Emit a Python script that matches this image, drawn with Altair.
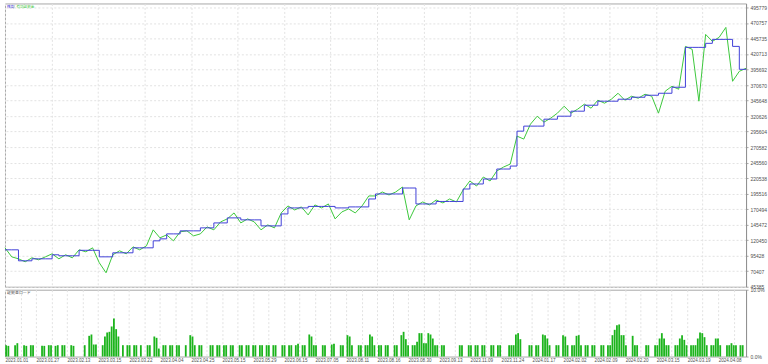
import json
import altair as alt
import pandas as pd

# ---------------- data ----------------
x_labels = ["2023.01.01", "2023.01.27", "2023.02.13", "2023.03.15", "2023.03.22", "2023.04.04",
            "2023.04.25", "2023.05.15", "2023.05.29", "2023.06.15", "2023.07.05", "2023.08.11",
            "2023.08.16", "2023.08.30", "2023.09.13", "2023.11.09", "2023.11.24", "2024.01.17",
            "2024.02.02", "2024.02.09", "2024.02.20", "2024.03.15", "2024.03.19", "2024.04.08"]
y_ticks = [45385, 70407, 95428, 120450, 145472, 170494, 195516, 220538, 245560, 270582,
           295604, 320626, 345648, 370670, 395692, 420713, 445735, 470757, 495779]
load_ticks = [0, 10]

n_deals = 330
sample_step = 3  # balance / equity sampled every 3 deals

balance_k = [104.9, 104.9, 87.2, 87.2, 90.4, 90.4, 90.4, 96.9, 95.3, 95.3,
             95.3, 104.1, 104.1, 104.1, 93.6, 93.6, 100.1, 100.1, 100.1, 108.1,
             108.1, 108.1, 119.4, 122.6, 130.6, 130.6, 135.5, 135.5, 135.5, 140.3,
             140.3, 148.3, 148.3, 156.4, 156.4, 153.2, 153.2, 153.2, 143.5, 143.5,
             143.5, 162.8, 172.5, 172.5, 172.5, 174.9, 174.9, 174.9, 174.9, 172.5,
             172.5, 174.1, 174.1, 174.1, 186.9, 195.0, 195.0, 195.0, 195.0, 204.6,
             204.6, 178.9, 178.9, 178.9, 182.9, 182.9, 182.9, 182.9, 203.0, 211.1,
             211.1, 219.1, 219.1, 235.2, 235.2, 240.0, 296.3, 304.4, 304.4, 304.4,
             315.6, 315.6, 320.4, 320.4, 328.5, 328.5, 338.1, 338.1, 344.6, 344.6,
             344.6, 347.8, 347.8, 351.0, 351.0, 354.2, 354.2, 357.4, 357.4, 367.1,
             367.1, 431.4, 431.4, 431.4, 437.9, 444.3, 444.3, 444.3, 433.0, 396.0,
             396.0]
equity_k = [108.1, 93.6, 90.4, 85.6, 92.0, 88.8, 93.6, 98.5, 90.4, 96.9,
            92.0, 104.9, 101.7, 108.1, 84.0, 67.9, 96.9, 103.3, 98.5, 109.7,
            104.9, 111.3, 137.1, 124.2, 129.0, 119.4, 133.9, 135.5, 127.4, 130.6,
            141.9, 137.1, 149.9, 154.8, 164.4, 148.3, 154.8, 149.9, 137.1, 145.1,
            140.3, 164.4, 175.7, 169.2, 174.1, 161.2, 177.3, 172.5, 178.9, 154.8,
            166.0, 170.9, 164.4, 175.7, 191.8, 191.8, 198.2, 193.4, 198.2, 206.2,
            153.2, 175.7, 182.1, 177.3, 185.3, 180.5, 186.9, 182.1, 201.4, 215.9,
            207.8, 222.3, 215.9, 232.0, 238.4, 243.2, 288.3, 283.5, 307.6, 320.4,
            310.8, 317.2, 325.3, 336.5, 325.3, 331.7, 339.8, 333.3, 346.2, 341.4,
            347.8, 357.4, 346.2, 352.6, 349.4, 355.8, 352.6, 325.3, 360.7, 368.7,
            363.9, 433.0, 428.2, 344.6, 452.3, 441.1, 447.5, 463.6, 376.7, 392.8,
            397.7]

load_deal = [0, 1, 4, 5, 8, 9, 11, 12, 16, 17,
             19, 20, 22, 23, 25, 26, 29, 30, 35, 37,
             38, 39, 40, 43, 44, 45, 46, 47, 48, 49,
             50, 52, 54, 55, 57, 58, 60, 63, 64, 66,
             67, 68, 70, 71, 73, 74, 76, 77, 80, 82,
             83, 84, 86, 87, 91, 92, 94, 95, 97, 98,
             100, 101, 104, 105, 107, 108, 110, 111, 113, 114,
             116, 117, 119, 120, 123, 124, 126, 127, 129, 130,
             132, 133, 135, 136, 137, 138, 141, 142, 145, 146,
             149, 150, 152, 153, 154, 157, 158, 160, 161, 162,
             163, 164, 166, 167, 169, 170, 173, 174, 176, 177,
             178, 179, 181, 182, 183, 184, 185, 186, 187, 188,
             189, 190, 191, 192, 194, 195, 202, 203, 206, 207,
             209, 210, 212, 213, 216, 217, 219, 220, 224, 225,
             226, 227, 228, 229, 233, 234, 236, 237, 239, 240,
             241, 242, 245, 246, 248, 249, 250, 252, 253, 254,
             255, 256, 258, 259, 261, 262, 265, 266, 268, 269,
             270, 271, 272, 273, 274, 275, 276, 279, 280, 281,
             285, 286, 289, 290, 291, 292, 293, 294, 295, 298,
             299, 300, 301, 302, 303, 305, 306, 307, 308, 309,
             310, 311, 312, 314, 315, 316, 317, 318, 321, 322,
             323, 324, 325, 327, 328]
load_pct = [1.7, 1.6, 1.7, 2.0, 1.7, 1.6, 1.7, 1.7, 1.6, 1.6,
            1.7, 1.7, 1.6, 1.7, 1.7, 1.7, 1.7, 1.6, 1.7, 3.1,
            3.3, 1.8, 1.8, 1.7, 3.0, 3.6, 3.7, 4.5, 5.7, 4.1,
            3.0, 1.7, 1.7, 1.7, 1.7, 1.7, 1.7, 1.7, 1.7, 3.0,
            2.8, 1.2, 1.7, 1.7, 1.7, 1.7, 1.7, 1.7, 1.7, 3.2,
            3.0, 1.7, 1.7, 1.7, 1.7, 1.7, 1.7, 1.7, 1.7, 1.7,
            1.7, 1.7, 1.7, 1.7, 1.7, 1.7, 1.7, 1.7, 1.7, 1.7,
            1.7, 1.7, 1.7, 1.7, 1.7, 1.7, 1.7, 1.7, 1.7, 1.9,
            1.7, 1.7, 3.3, 3.0, 1.7, 1.7, 1.7, 1.7, 1.8, 1.9,
            1.7, 1.7, 3.2, 3.0, 1.7, 1.7, 1.7, 1.7, 1.7, 3.3,
            3.0, 1.7, 1.7, 1.7, 1.7, 1.7, 1.7, 1.7, 3.2, 3.7,
            2.6, 1.7, 1.7, 1.7, 2.2, 3.5, 3.5, 2.0, 2.0, 3.5,
            3.3, 2.7, 1.7, 1.7, 1.7, 1.7, 1.7, 1.7, 1.7, 1.7,
            1.7, 1.7, 1.7, 1.7, 1.7, 1.7, 1.7, 1.7, 1.7, 1.7,
            1.7, 3.3, 3.5, 2.6, 1.7, 1.7, 1.7, 1.7, 3.3, 3.2,
            2.7, 1.7, 1.7, 1.7, 3.2, 3.0, 1.7, 1.7, 1.7, 3.1,
            3.2, 1.7, 1.7, 1.7, 1.7, 1.7, 1.7, 1.7, 1.7, 1.7,
            3.2, 4.0, 4.7, 4.8, 3.2, 3.2, 1.7, 3.1, 1.7, 1.7,
            1.7, 1.7, 1.7, 1.7, 2.7, 3.5, 2.7, 1.7, 1.7, 1.7,
            1.7, 2.7, 3.2, 2.5, 1.7, 1.7, 1.7, 1.7, 2.7, 3.6,
            3.5, 2.9, 1.7, 1.7, 1.7, 2.7, 2.7, 1.7, 1.7, 1.7,
            2.0, 1.7, 1.7, 1.7, 1.7]

# ---------------- tables ----------------
n_pts = min(len(balance_k), len(equity_k))
lines = pd.DataFrame({
    "deal": [j * sample_step for j in range(n_pts)],
    "balance": [v * 1000 for v in balance_k[:n_pts]],
    "equity": [v * 1000 for v in equity_k[:n_pts]],
})
n_bars = min(len(load_deal), len(load_pct))
bars = pd.DataFrame({"deal": load_deal[:n_bars], "load": load_pct[:n_bars]})
bars["x0"] = bars["deal"] + 0.1
bars["x1"] = bars["deal"] + 0.9
bars["zero"] = 0.0

# ---------------- layout constants ----------------
W = 743
H_MAIN = 284
H_LOAD = 67
label_step = n_deals / 23.9      # deals between date labels
half_step = label_step / 2       # load-panel grid spacing
main_grid_step = label_step * 1.5
y_top = y_ticks[-1] + (y_ticks[-1] - y_ticks[0]) / 18 * 0.257

GRID = "#e2e2e2"
FRAME = "#a8a8a8"
LBL = "#505050"
BLUE = "#4040d8"
GREEN = "#3cc83c"
BAR = "#1cb41c"
FONT = "Liberation Sans"
JP = "Noto Sans CJK JP"

x_scale = alt.Scale(domain=[0, n_deals], nice=False, zero=False)
y_scale = alt.Scale(domain=[y_ticks[0], y_top], nice=False, zero=False)

x_main_axis = alt.Axis(values=[k * main_grid_step for k in range(16)], labels=False, ticks=False,
                       domain=False, grid=True, gridColor=GRID, gridDash=[2, 2], title=None)
y_main_axis = alt.Axis(orient="right", values=y_ticks, format="d", title=None,
                       labelFontSize=5, labelColor=LBL, labelFont=FONT, labelPadding=2,
                       tickSize=2, tickColor=FRAME, domainColor="#909090",
                       grid=True, gridColor=GRID, gridDash=[2, 2], labelOverlap=False)

base = alt.Chart(lines)
eq_line = base.mark_line(color=GREEN, strokeWidth=1).encode(
    x=alt.X("deal:Q", scale=x_scale, axis=x_main_axis),
    y=alt.Y("equity:Q", scale=y_scale, axis=y_main_axis),
)
bal_line = base.mark_line(color=BLUE, strokeWidth=1, interpolate="step-after").encode(
    x=alt.X("deal:Q", scale=x_scale, axis=x_main_axis),
    y=alt.Y("balance:Q", scale=y_scale, axis=y_main_axis),
)

title_df = pd.DataFrame({"a": ["残高"], "b": [" / "], "c": ["有効証拠金"]})
t_a = alt.Chart(title_df).mark_text(align="left", baseline="top", font=JP, fontSize=3.6, color=BLUE).encode(
    text="a:N", x=alt.value(2), y=alt.value(2))
t_b = alt.Chart(title_df).mark_text(align="left", baseline="top", font=JP, fontSize=3.6, color="#333333").encode(
    text="b:N", x=alt.value(8.5), y=alt.value(2))
t_c = alt.Chart(title_df).mark_text(align="left", baseline="top", font=JP, fontSize=3.6, color=GREEN).encode(
    text="c:N", x=alt.value(11.5), y=alt.value(2))

main = alt.layer(eq_line, bal_line, t_a, t_b, t_c).properties(width=W, height=H_MAIN)

lab_js = json.dumps(x_labels)
x_expr = (f"(round(datum.value / {half_step}) % 2 == 0) ? "
          f"{lab_js}[round(datum.value / {half_step}) / 2] : ''")
x_load_axis = alt.Axis(values=[k * half_step for k in range(48)], labelExpr=x_expr, title=None,
                       labelAlign="left", labelFontSize=4.6, labelColor=LBL, labelFont=FONT,
                       labelPadding=1, ticks=False, domain=False, labelOverlap=False, labelBound=False,
                       labelFlush=False, grid=True, gridColor=GRID, gridDash=[2, 2])

bar_layer = alt.Chart(bars).mark_bar(color=BAR).encode(
    x=alt.X("x0:Q", scale=x_scale, axis=x_load_axis),
    x2="x1:Q",
    y=alt.Y("load:Q", scale=alt.Scale(domain=[0, 10], nice=False),
            axis=alt.Axis(orient="right", values=load_ticks, title=None, grid=False,
                          labelExpr="format(datum.value, '.1f') + '%'", labelFontSize=5,
                          labelColor=LBL, labelFont=FONT, labelPadding=2, tickSize=2,
                          tickColor=FRAME, domainColor="#909090", labelOverlap=False)),
    y2="zero:Q",
)
load_title = alt.Chart(pd.DataFrame({"t": ["証拠金ロード"]})).mark_text(
    align="left", baseline="top", font=JP, fontSize=4, color="#444444").encode(
    text="t:N", x=alt.value(2), y=alt.value(1.5))

load = alt.layer(bar_layer, load_title).properties(width=W, height=H_LOAD)

chart = alt.vconcat(main, load, spacing=3, bounds="flush").properties(
    padding={"left": 2, "top": 2, "right": 0, "bottom": 0},
    background="white",
).configure_view(stroke=FRAME, strokeWidth=1)

chart.save("out.html", embed_options={"renderer": "svg", "actions": False})
